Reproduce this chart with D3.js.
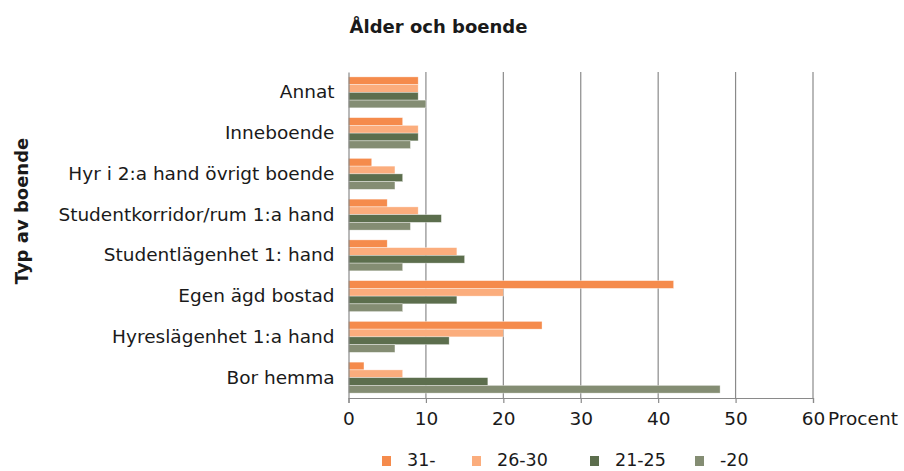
<!DOCTYPE html>
<html><head><meta charset="utf-8">
<script src="https://cdn.jsdelivr.net/npm/d3@7"></script>
<style>body{margin:0;background:#fff}svg{display:block}text{font-family:"DejaVu Sans",sans-serif;fill:#1a1a1a}</style>
</head><body><svg id="c" width="904" height="471"></svg>
<script>
const categories = ["Annat","Inneboende","Hyr i 2:a hand övrigt boende","Studentkorridor/rum 1:a hand","Studentlägenhet 1: hand","Egen ägd bostad","Hyreslägenhet 1:a hand","Bor hemma"];
const seriesNames = ["31-","26-30","21-25","-20"];
const s31 = [9,7,3,5,5,42,25,2];
const s2630 = [9,9,6,9,14,20,20,7];
const s2125 = [9,9,7,12,15,14,13,18];
const s20 = [10,8,6,8,7,7,6,48];
const colors = ["#f58b4c","#fbad7d","#5c6e4d","#848d73"];
const xTicks = [0,10,20,30,40,50,60];
const series = [s31,s2630,s2125,s20];

const FS = 18.5;
const svg = d3.select("#c");
const m = {l:348.5, r:813, t:72, b:398};
const x = d3.scaleLinear().domain([0,60]).range([m.l,m.r]);
const y = d3.scaleBand().domain(categories).range([m.t,m.b]).paddingInner(0.24).paddingOuter(0.12);
const ys = d3.scaleBand().domain(seriesNames).range([0,y.bandwidth()]);

svg.append("g").selectAll("line").data(xTicks.slice(1)).join("line")
  .attr("x1",d=>x(d)).attr("x2",d=>x(d)).attr("y1",m.t).attr("y2",m.b)
  .attr("stroke","#8a8a8a").attr("stroke-width",1.2);

categories.forEach((c,i)=>{
  series.forEach((s,j)=>{
    svg.append("rect").attr("x",x(0)).attr("y",y(c)+ys(seriesNames[j]))
      .attr("width",x(s[i])-x(0)).attr("height",ys.bandwidth())
      .attr("fill",colors[j]).attr("stroke","rgba(255,255,255,0.6)").attr("stroke-width",0.6);
  });
});

const xa = svg.append("g").attr("transform",`translate(0,${m.b})`)
  .call(d3.axisBottom(x).tickValues(xTicks).tickSize(5).tickPadding(9).tickFormat(d3.format("d")));
xa.select(".domain").attr("stroke","#8a8a8a").attr("stroke-width",1.2);
xa.selectAll(".tick line").attr("stroke","#8a8a8a").attr("stroke-width",1.2);
xa.selectAll("text").style("font-size",FS+"px").style("font-family","DejaVu Sans").attr("fill","#1a1a1a");
svg.append("text").attr("x",x(60)+15).attr("y",m.b+27).style("font-size",FS+"px").text("Procent");

const ya = svg.append("g").attr("transform",`translate(${m.l},0)`)
  .call(d3.axisLeft(y).tickSize(0).tickPadding(14));
ya.select(".domain").attr("stroke","#8a8a8a").attr("stroke-width",1.2);
ya.selectAll("text").style("font-size",FS+"px").style("font-family","DejaVu Sans").attr("fill","#1a1a1a");

svg.append("text").attr("x",438.5).attr("y",33).attr("text-anchor","middle")
  .style("font-size","18px").style("font-weight","bold").text("Ålder och boende");
svg.append("text").attr("transform",`translate(28,211) rotate(-90)`).attr("text-anchor","middle")
  .style("font-size","18px").style("font-weight","bold").text("Typ av boende");

const lx = [382,472,590,695];
const lg = svg.append("g");
seriesNames.forEach((n,j)=>{
  lg.append("rect").attr("x",lx[j]).attr("y",456).attr("width",9).attr("height",10).attr("fill",colors[j]);
  lg.append("text").attr("x",lx[j]+25).attr("y",466).style("font-size","17.5px").text(n);
});
</script></body></html>
